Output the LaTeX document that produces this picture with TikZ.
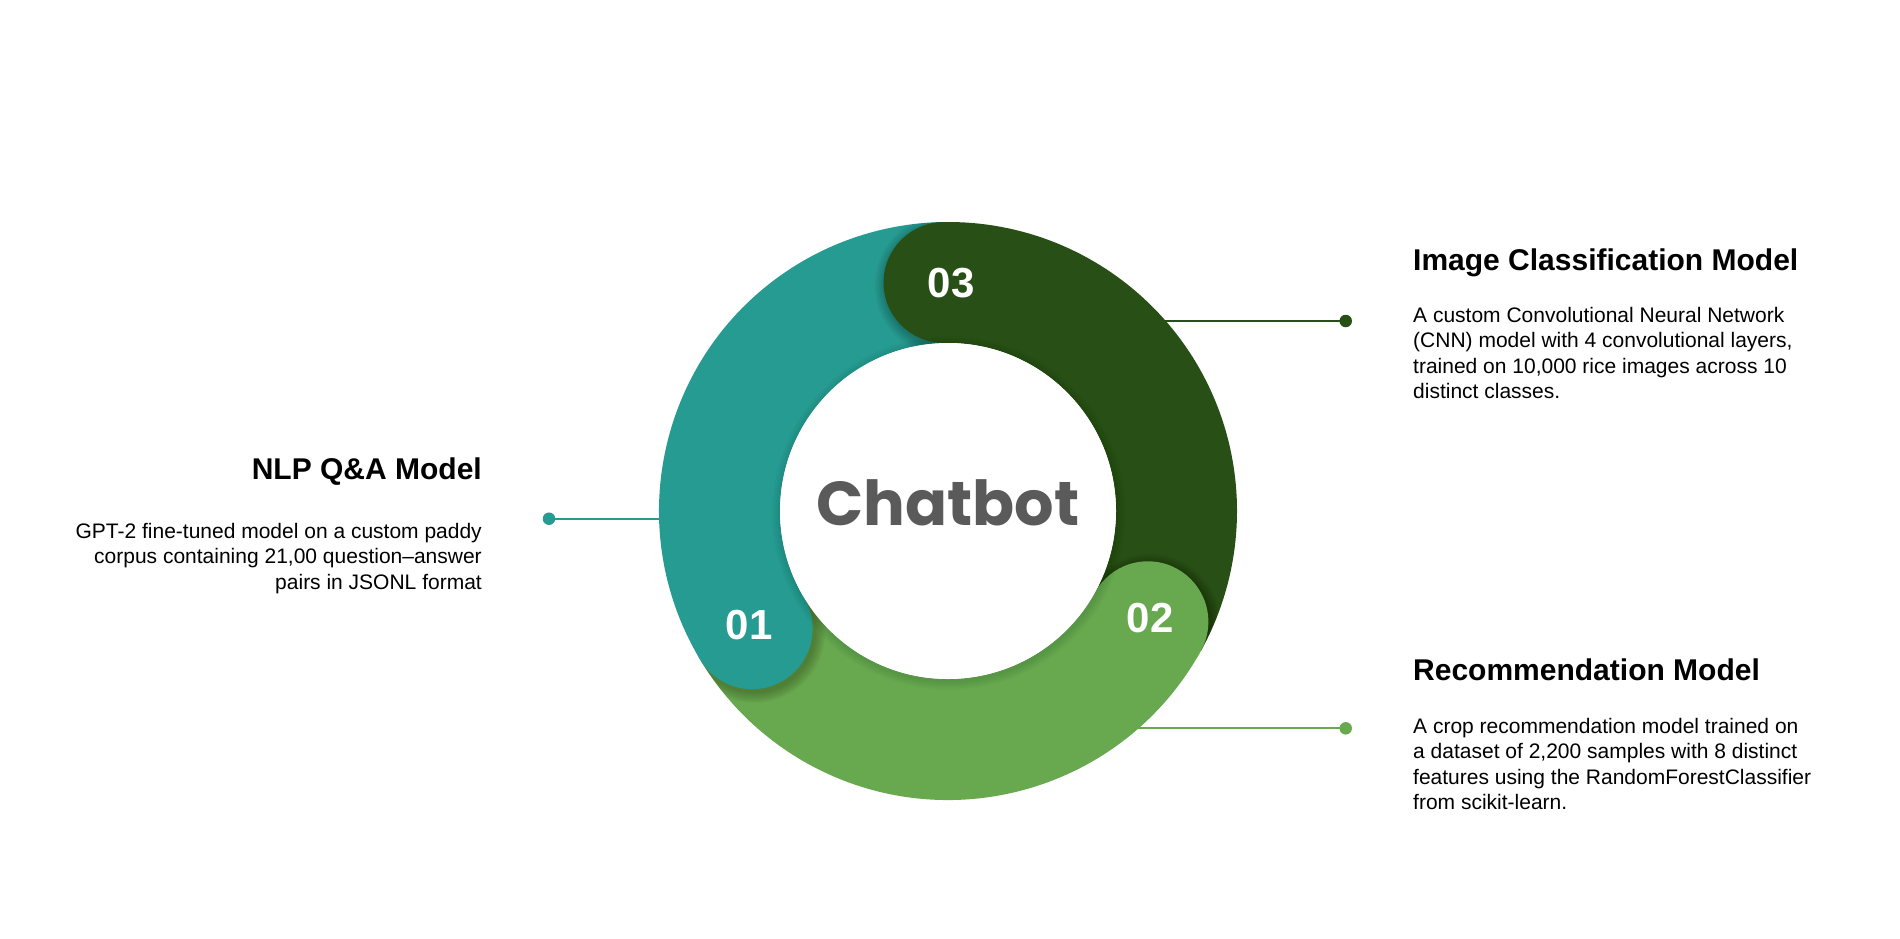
\documentclass[tikz,border=0pt]{standalone}
\usepackage{fontspec}
\setmainfont{Liberation Sans}
\newfontfamily\popfont{Poppins}
\usetikzlibrary{calc}
\definecolor{cteal}{RGB}{38,155,145}
\definecolor{cdark}{RGB}{40,80,22}
\definecolor{clight}{RGB}{104,168,78}
\definecolor{cgrey}{RGB}{90,90,90}
\tikzset{
  seg/.style={line width=121pt},
  conn/.style={line width=2.2pt},
  dotnode/.style={circle, inner sep=0pt, minimum size=12.5pt},
  head/.style={inner sep=0pt, font=\fontsize{30}{36}\selectfont\bfseries, text=black},
  body/.style={inner sep=0pt, font=\fontsize{21}{25.5}\selectfont, text=black},
  num/.style={inner sep=0pt, font=\fontsize{42}{42}\selectfont\bfseries, text=white},
}
\newcommand\capshade[2]{%
  \begin{scope}
    \clip (C) circle[radius=289];
    \clip ($(C)+(#1:500)$) -- ($(C)+(#1:500)+(#1+90:500)$) -- ($(C)+(#1:-500)+(#1+90:500)$) -- ($(C)+(#1:-500)$) -- cycle;
    \foreach \k in {1,...,12}
      \fill[black, opacity=0.018] ($(#2)+(2,-3)$) circle[radius=60.5+\k*0.9];
  \end{scope}}
\begin{document}
\begin{tikzpicture}[x=1pt,y=1pt]
\useasboundingbox (0,0) rectangle (1900,-938);
\fill[white] (0,0) rectangle (1900,-938);
\coordinate (C) at (948,-511);
\coordinate (k3) at ($(C)+(91:228.5)$);
\coordinate (k2) at ($(C)+(-29:228.5)$);
\coordinate (k1) at ($(C)+(211:228.5)$);
% connector ends on ring
\coordinate (e1) at (659,-518.7);
\coordinate (e3) at (1165,-321);
\coordinate (e2) at (1138,-728.3);
\node[dotnode, fill=cteal] (d1) at (549,-518.7) {};
\node[dotnode, fill=cdark] (d3) at (1345.7,-321) {};
\node[dotnode, fill=clight] (d2) at (1345.7,-728.3) {};
\draw[conn, cteal] (d1.center) -- (e1);
\draw[conn, cdark] (d3.center) -- (e3);
\draw[conn, clight] (d2.center) -- (e2);
% ring segments
\draw[seg, cdark] (k3) arc[start angle=91, end angle=-29, radius=228.5];
\draw[seg, clight] (k2) arc[start angle=-29, end angle=-149, radius=228.5];
\draw[seg, cteal] (k1) arc[start angle=211, end angle=91, radius=228.5];
% caps with shadows
\capshade{91}{k3}
\fill[cdark] (k3) circle[radius=60.5];
\capshade{-29}{k2}
\fill[clight] (k2) circle[radius=60.5];
\capshade{211}{k1}
\fill[cteal] (k1) circle[radius=60.5];
% inner circle shadow
\begin{scope}
  \clip (C) circle[radius=289];
  \foreach \k in {1,...,9}
    \fill[black, opacity=0.01] ($(C)+(1,-2)$) circle[radius=168+\k];
\end{scope}
\fill[white] (C) circle[radius=168];
% numbers
\node[num] (n3) at (951,-283) {03};
\node[num] (n2) at (1150,-618) {02};
\node[num] (n1) at (749,-625) {01};
% center title
\node[inner sep=0pt, anchor=base, font=\popfont\bfseries\fontsize{62}{62}\selectfont, text=cgrey] (title) at (948,-525) {Chatbot};
% texts
\node[head, anchor=base west] (h3) at (1413,-270) {Image Classification Model};
\node[body, anchor=base west] (b3) at (1413,-322) {\begin{tabular}[t]{@{}l@{}}A custom Convolutional Neural Network\\(CNN) model with 4 convolutional layers,\\trained on 10,000 rice images across 10\\distinct classes.\end{tabular}};
\node[head, anchor=base west] (h2) at (1413,-680) {Recommendation Model};
\node[body, anchor=base west] (b2) at (1413,-733) {\begin{tabular}[t]{@{}l@{}}A crop recommendation model trained on\\a dataset of 2,200 samples with 8 distinct\\features using the RandomForestClassifier\\from scikit-learn.\end{tabular}};
\node[head, anchor=base east] (h1) at (482,-479) {NLP Q\&A Model};
\node[body, anchor=base east] (b1) at (482,-538) {\begin{tabular}[t]{@{}r@{}}GPT-2 fine-tuned model on a custom paddy\\corpus containing 21,00 question–answer\\pairs in JSONL format\end{tabular}};
\end{tikzpicture}
\end{document}
